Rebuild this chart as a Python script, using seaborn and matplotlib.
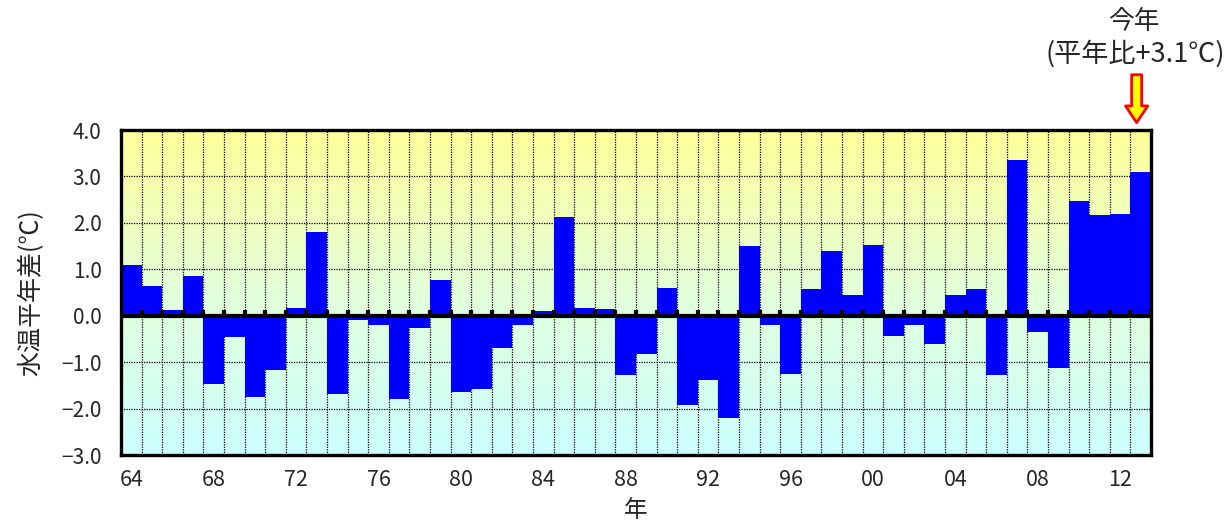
import numpy as np
import pandas as pd
import matplotlib
matplotlib.use("Agg")
import matplotlib.pyplot as plt
import seaborn as sns
from matplotlib.colors import LinearSegmentedColormap

years = list(range(1964, 2014))
anomaly = [1.10, 0.65, 0.12, 0.85, -1.47, -0.45, -1.75, -1.17, 0.17, 1.80,
           -1.68, -0.09, -0.20, -1.80, -0.27, 0.78, -1.64, -1.58, -0.70, -0.20,
           0.10, 2.13, 0.17, 0.15, -1.27, -0.82, 0.60, -1.92, -1.38, -2.20,
           1.50, -0.20, -1.26, 0.57, 1.40, 0.45, 1.52, -0.43, -0.19, -0.61,
           0.45, 0.58, -1.27, 3.36, -0.34, -1.13, 2.48, 2.17, 2.20, 3.10]
yticks = [-3, -2, -1, 0, 1, 2, 3, 4]
ytick_labels = ["−3.0", "−2.0", "−1.0", "0.0", "1.0", "2.0", "3.0", "4.0"]
xtick_years = list(range(1964, 2014, 4))
xtick_labels = [f"{y % 100:02d}" for y in xtick_years]

sns.set_theme(style="white")
plt.rcParams['font.family'] = ['Noto Sans CJK JP', 'DejaVu Sans']
plt.rcParams['axes.unicode_minus'] = True

fig = plt.figure(figsize=(12.32, 5.23), dpi=100)
ax = fig.add_axes([0.0982, 0.130, 0.8361, 0.6214])

df = pd.DataFrame({"year": [str(y) for y in years], "anomaly": anomaly})
sns.barplot(data=df, x="year", y="anomaly", width=1.0, color="#0000FF",
            saturation=1, edgecolor="none", linewidth=0, ax=ax, zorder=2)

n = len(years)
ax.set_xlim(-0.5, n - 0.5)
ax.set_ylim(-3, 4)

# background gradient
cmap = LinearSegmentedColormap.from_list("bg", ["#CCFFFF", "#E3FFDA", "#FFFF99"])
grad = np.linspace(0, 1, 256).reshape(-1, 1)
ax.imshow(grad, extent=[-0.5, n - 0.5, -3, 4], origin="lower", aspect="auto",
          cmap=cmap, zorder=0)

# grid lines
bounds = np.arange(-0.5, n, 1.0)
ax.vlines(bounds[1:-1], -3, 4, colors="black", linestyles=(0, (1, 1)), linewidth=0.9, zorder=1)
for yv in [-2, -1, 1, 2, 3]:
    ax.axhline(yv, color="black", linestyle=(0, (1, 1)), linewidth=0.9, zorder=1)

# zero line with tick marks
ax.axhline(0, color="black", linewidth=3, zorder=3)
ax.vlines(bounds, 0, 0.13, colors="black", linewidth=3, zorder=3)

for s in ax.spines.values():
    s.set_linewidth(2.4)
    s.set_color("black")
    s.set_zorder(4)

ax.set_yticks(yticks)
ax.set_yticklabels(ytick_labels, fontsize=15)
xpos = [years.index(y) for y in xtick_years]
ax.set_xticks(xpos)
ax.set_xticklabels(xtick_labels, fontsize=15.5)
ax.tick_params(axis="both", length=0)
ax.tick_params(axis="x", pad=10)
ax.tick_params(axis="y", pad=14)
ax.set_xlabel("年", fontsize=17, labelpad=6)
ax.set_ylabel("水温平年差(℃)", fontsize=18, labelpad=12)

# annotation
ax.annotate("", xy=(years.index(2013) - 0.2, 4.1), xytext=(years.index(2013) - 0.2, 5.25),
            annotation_clip=False,
            arrowprops=dict(arrowstyle="simple,head_width=0.8,head_length=0.6,tail_width=0.36",
                            mutation_scale=20, fc="#FFFF00", ec="#FF0000", lw=2))
fig.text(1134 / 1232, 1 - 22 / 523, "今年", ha="center", va="center", fontsize=18.5)
fig.text(1135 / 1232, 1 - 54 / 523, "(平年比+3.1℃)", ha="center", va="center", fontsize=19.5)

fig.savefig("out.png", dpi=100)
